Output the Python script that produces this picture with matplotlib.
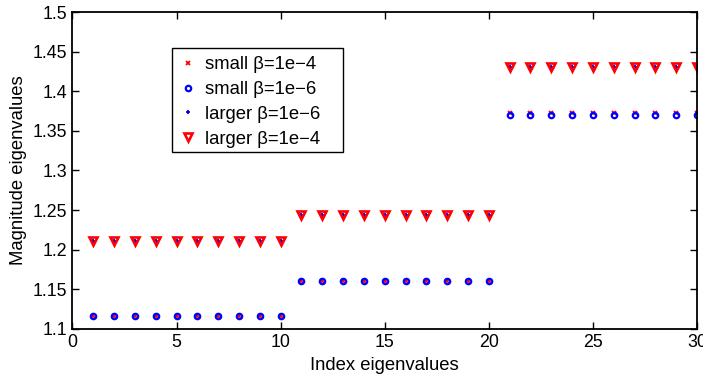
import matplotlib
matplotlib.use("Agg")
import matplotlib.pyplot as plt
from matplotlib.patches import Rectangle
import numpy as np

plt.rcParams['font.family'] = ['Liberation Sans', 'DejaVu Sans']

index = np.arange(1, 31)
small_b4 = [1.116] * 10 + [1.160] * 10 + [1.372] * 10
small_b6 = [1.116] * 10 + [1.160] * 10 + [1.370] * 10
larger_b6 = [1.211] * 10 + [1.244] * 10 + [1.431] * 10
larger_b4 = [1.211] * 10 + [1.244] * 10 + [1.431] * 10

labels = ['small \u03b2=1e\u22124', 'small \u03b2=1e\u22126',
          'larger \u03b2=1e\u22126', 'larger \u03b2=1e\u22124']

fig = plt.figure(figsize=(7.03, 3.81), dpi=100)
ax = fig.add_axes([0.103, 0.137, 0.8885, 0.8315])

ax.plot(index, small_b4, linestyle='none', marker='x', color='red',
        markersize=2.2, markeredgewidth=1.3, label=labels[0])
ax.plot(index, small_b6, linestyle='none', marker='o', color='blue',
        markerfacecolor='none', markersize=3.9, markeredgewidth=1.6, label=labels[1])
ax.plot(index, larger_b6, linestyle='none', marker='+', color='blue',
        markersize=2.6, markeredgewidth=1.3, label=labels[2])
ax.plot(index, larger_b4, linestyle='none', marker='v', color='red',
        markerfacecolor='none', markersize=5.6, markeredgewidth=1.9, label=labels[3])

ax.set_xlim(0, 30)
ax.set_ylim(1.1, 1.5)
ax.set_xticks(np.arange(0, 31, 5))
ax.set_yticks(np.round(np.arange(1.1, 1.5001, 0.05), 2))
ax.set_yticklabels(['1.1', '1.15', '1.2', '1.25', '1.3', '1.35', '1.4', '1.45', '1.5'])
ax.tick_params(direction='in', top=True, right=True, length=5, width=1,
               labelsize=12.8, pad=4)
for s in ax.spines.values():
    s.set_linewidth(1.3)

ax.set_xlabel('Index eigenvalues', fontsize=13.3, labelpad=4)
ax.set_ylabel('Magnitude eigenvalues', fontsize=13.3, labelpad=4)

# legend box drawn as a plain white rectangle behind the entries
box = Rectangle((0.1593, 0.558), 0.274, 0.328, transform=ax.transAxes,
                facecolor='white', edgecolor='black', linewidth=1.0, zorder=4.5)
ax.add_patch(box)

leg = ax.legend(loc='upper left', bbox_to_anchor=(0.1593, 0.886), fontsize=13.3,
                frameon=False, borderaxespad=0,
                handlelength=0.8, handletextpad=0.55, labelspacing=0.42,
                borderpad=0.45, numpoints=1)
leg.set_zorder(5)

fig.savefig('out.png', dpi=100)
